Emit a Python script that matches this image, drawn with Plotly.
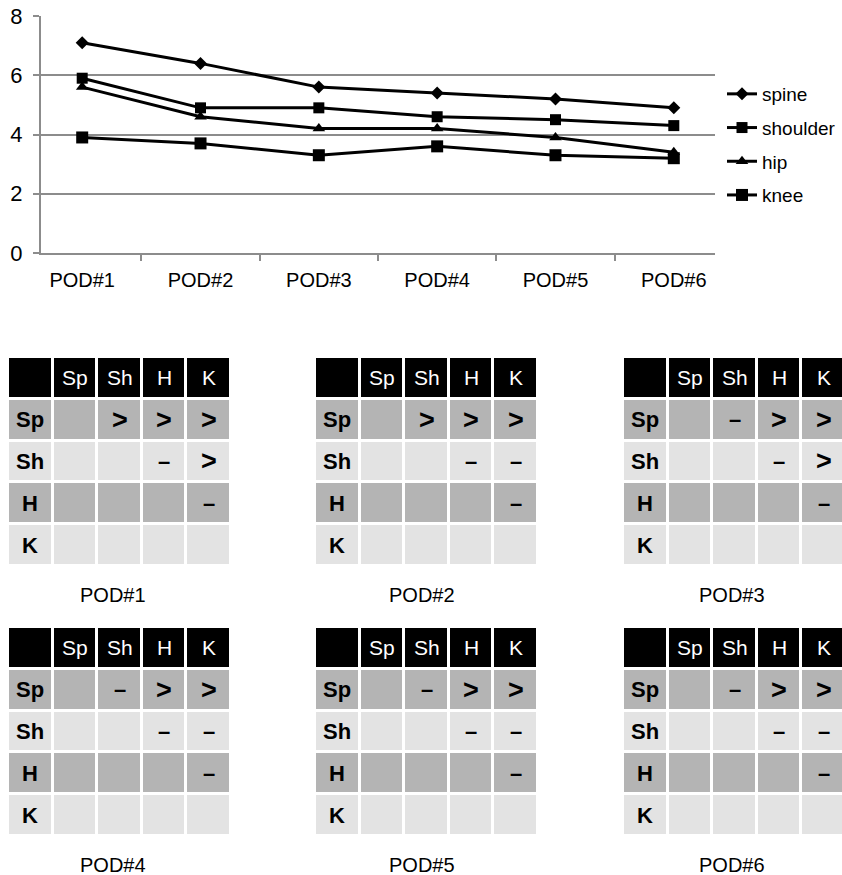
import plotly.graph_objects as go

# ---------------- data ----------------
pods = ["POD#1", "POD#2", "POD#3", "POD#4", "POD#5", "POD#6"]
spine = [7.1, 6.4, 5.6, 5.4, 5.2, 4.9]
shoulder = [5.9, 4.9, 4.9, 4.6, 4.5, 4.3]
hip = [5.6, 4.6, 4.2, 4.2, 3.9, 3.4]
knee = [3.9, 3.7, 3.3, 3.6, 3.3, 3.2]
y_ticks = [0, 2, 4, 6, 8]

joints = ["Sp", "Sh", "H", "K"]
cmp_pod1 = [["", ">", ">", ">"], ["", "", "–", ">"], ["", "", "", "–"], ["", "", "", ""]]
cmp_pod2 = [["", ">", ">", ">"], ["", "", "–", "–"], ["", "", "", "–"], ["", "", "", ""]]
cmp_pod3 = [["", "–", ">", ">"], ["", "", "–", ">"], ["", "", "", "–"], ["", "", "", ""]]
cmp_pod4 = [["", "–", ">", ">"], ["", "", "–", "–"], ["", "", "", "–"], ["", "", "", ""]]
cmp_pod5 = [["", "–", ">", ">"], ["", "", "–", "–"], ["", "", "", "–"], ["", "", "", ""]]
cmp_pod6 = [["", "–", ">", ">"], ["", "", "–", "–"], ["", "", "", "–"], ["", "", "", ""]]
comparisons = [cmp_pod1, cmp_pod2, cmp_pod3, cmp_pod4, cmp_pod5, cmp_pod6]
# row shade codes: 0 header (black), 1 dark gray, 2 light gray
row_shades = [0, 1, 2, 1, 2]

W, H = 842, 875
FONT = "Liberation Sans, Arial, sans-serif"

fig = go.Figure()

series = [
    ("spine", spine, "diamond", 10),
    ("shoulder", shoulder, "square", 11),
    ("hip", hip, "triangle-up", 11),
    ("knee", knee, "square", 12),
]
for name, vals, sym, sz in series:
    fig.add_trace(go.Scatter(
        x=pods, y=vals, name=name, mode="lines+markers",
        line=dict(color="black", width=3),
        marker=dict(symbol=sym, size=sz, color="black"),
        legendgroup=name, xaxis="x", yaxis="y", hoverinfo="skip",
    ))

layout = dict(
    width=W, height=H,
    margin=dict(l=0, r=0, t=0, b=0, autoexpand=False),
    paper_bgcolor="white", plot_bgcolor="white",
    showlegend=True,
    legend=dict(x=722 / W, y=1 - 75 / H, xanchor="left", yanchor="top",
                font=dict(family=FONT, size=19, color="black"),
                itemwidth=30, tracegroupgap=6, bgcolor="rgba(0,0,0,0)"),
    xaxis=dict(domain=[41 / W, 715 / W], anchor="y", type="category",
               tickson="boundaries", ticks="outside", ticklen=6, tickwidth=1.5,
               tickcolor="#8c8c8c", showline=True, linecolor="#8c8c8c", linewidth=2,
               showgrid=False, ticklabelstandoff=8,
               tickfont=dict(family=FONT, size=20, color="black")),
    yaxis=dict(domain=[1 - 253 / H, 1 - 16 / H], anchor="x", range=[0, 8],
               tickvals=y_ticks, ticks="outside", ticklen=6, tickwidth=1.5,
               tickcolor="#8c8c8c", showline=True, linecolor="#8c8c8c", linewidth=2,
               showgrid=True, gridcolor="#8c8c8c", gridwidth=1.5, zeroline=False,
               ticklabelstandoff=6,
               tickfont=dict(family=FONT, size=22, color="black")),
)

annotations = []
# table placements in px: (left, top)
lefts = [8, 315, 623]
tops = [357, 627]
title_cx = [113, 422, 732]
title_y = [595, 865]
TW, TH = 223, 209
cell_w = TW / 5

for i, cmp in enumerate(comparisons):
    r, c = divmod(i, 3)
    L, T = lefts[c], tops[r]
    R = min(L + TW, W)
    ax_n = i + 2
    xa, ya = f"x{ax_n}", f"y{ax_n}"
    z = [[row_shades[k]] * 5 for k in range(5)]
    fig.add_trace(go.Heatmap(
        z=z, x=list(range(5)), y=list(range(5)),
        colorscale=[[0, "#000000"], [0.5, "#b4b4b4"], [1, "#e3e3e3"]],
        zmin=0, zmax=2, showscale=False, xgap=3, ygap=3,
        xaxis=xa, yaxis=ya, hoverinfo="skip", showlegend=False,
    ))
    layout[f"xaxis{ax_n}"] = dict(domain=[L / W, R / W], anchor=ya,
                                  range=[-0.5, -0.5 + (R - L) / cell_w],
                                  visible=False, fixedrange=True)
    layout[f"yaxis{ax_n}"] = dict(domain=[1 - (T + TH) / H, 1 - T / H], anchor=xa,
                                  range=[4.5, -0.5], visible=False, fixedrange=True)
    # header labels
    for j, lab in enumerate(joints):
        annotations.append(dict(x=j + 1, y=0, xref=xa, yref=ya, text=lab, showarrow=False,
                                font=dict(family=FONT, size=21, color="white")))
    # row labels + comparison symbols
    for k, lab in enumerate(joints):
        annotations.append(dict(x=0, y=k + 1, xref=xa, yref=ya, text=f"<b>{lab}</b>",
                                showarrow=False,
                                font=dict(family=FONT, size=22, color="black")))
        for j, s in enumerate(cmp[k]):
            if not s:
                continue
            size = 27 if s == ">" else 22
            annotations.append(dict(x=j + 1, y=k + 1, xref=xa, yref=ya,
                                    text=f"<b>{s}</b>", showarrow=False,
                                    font=dict(family=FONT, size=size, color="black")))
    annotations.append(dict(x=title_cx[c] / W, y=1 - title_y[r] / H, xref="paper",
                            yref="paper", text=pods[i], showarrow=False,
                            xanchor="center", yanchor="middle",
                            font=dict(family=FONT, size=20, color="black")))

layout["annotations"] = annotations
fig.update_layout(**layout)
fig.write_html(
    "out.html",
    config={"displayModeBar": False},
    post_script="document.body.style.margin='0';document.body.style.overflow='hidden';",
)
